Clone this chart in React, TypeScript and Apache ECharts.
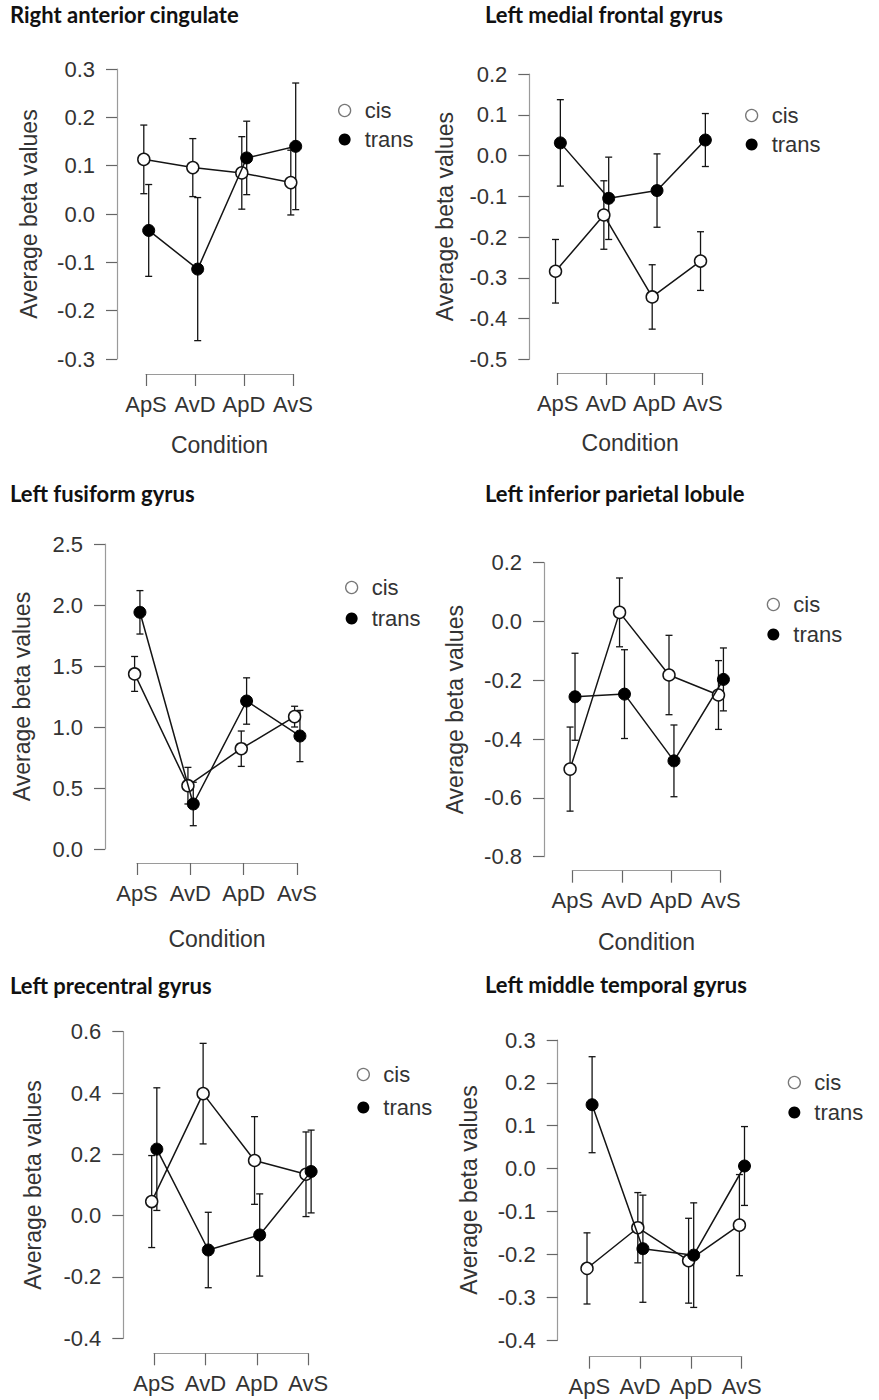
import React, { useEffect, useRef } from 'react';
import * as echarts from 'echarts';

// ---------- data ----------
const CONDITIONS = ['ApS', 'AvD', 'ApD', 'AvS'];
const GROUPS = ['cis', 'trans'];

const PANEL_TITLES = [
  'Right anterior cingulate',
  'Left medial frontal gyrus',
  'Left fusiform gyrus',
  'Left inferior parietal lobule',
  'Left precentral gyrus',
  'Left middle temporal gyrus',
];

// y-axis ranges (min, max, tick step)
const Y_MIN = [-0.3, -0.5, 0.0, -0.8, -0.4, -0.4];
const Y_MAX = [0.3, 0.2, 2.5, 0.2, 0.6, 0.3];
const Y_STEP = [0.1, 0.1, 0.5, 0.2, 0.2, 0.1];

// Right anterior cingulate
const racCisMean = [0.113, 0.096, 0.085, 0.065];
const racCisErr = [0.071, 0.06, 0.075, 0.067];
const racTransMean = [-0.034, -0.114, 0.116, 0.14];
const racTransErr = [0.095, 0.148, 0.076, 0.131];

// Left medial frontal gyrus
const lmfCisMean = [-0.284, -0.146, -0.347, -0.259];
const lmfCisErr = [0.078, 0.084, 0.079, 0.072];
const lmfTransMean = [0.031, -0.105, -0.086, 0.038];
const lmfTransErr = [0.106, 0.101, 0.09, 0.065];

// Left fusiform gyrus
const lfgCisMean = [1.435, 0.519, 0.822, 1.085];
const lfgCisErr = [0.143, 0.15, 0.145, 0.085];
const lfgTransMean = [1.94, 0.369, 1.213, 0.926];
const lfgTransErr = [0.178, 0.178, 0.19, 0.21];

// Left inferior parietal lobule
const lipCisMean = [-0.502, 0.031, -0.182, -0.25];
const lipCisErr = [0.143, 0.117, 0.135, 0.117];
const lipTransMean = [-0.256, -0.247, -0.474, -0.197];
const lipTransErr = [0.148, 0.151, 0.122, 0.107];

// Left precentral gyrus
const lpcCisMean = [0.046, 0.398, 0.18, 0.135];
const lpcCisErr = [0.15, 0.164, 0.143, 0.138];
const lpcTransMean = [0.217, -0.112, -0.063, 0.144];
const lpcTransErr = [0.2, 0.123, 0.134, 0.135];

// Left middle temporal gyrus
const lmtCisMean = [-0.233, -0.138, -0.215, -0.132];
const lmtCisErr = [0.083, 0.082, 0.099, 0.118];
const lmtTransMean = [0.149, -0.187, -0.202, 0.006];
const lmtTransErr = [0.112, 0.125, 0.122, 0.092];

const PANEL_DATA = [
  { cis: [racCisMean, racCisErr], trans: [racTransMean, racTransErr] },
  { cis: [lmfCisMean, lmfCisErr], trans: [lmfTransMean, lmfTransErr] },
  { cis: [lfgCisMean, lfgCisErr], trans: [lfgTransMean, lfgTransErr] },
  { cis: [lipCisMean, lipCisErr], trans: [lipTransMean, lipTransErr] },
  { cis: [lpcCisMean, lpcCisErr], trans: [lpcTransMean, lpcTransErr] },
  { cis: [lmtCisMean, lmtCisErr], trans: [lmtTransMean, lmtTransErr] },
];

// ---------- layout (pixels) ----------
const LAYOUT = [
  { grid: [146, 69, 147, 290], yOff: 29, xOff: 15, yGap: 77, xGap: 59, leg: [338, 99, 6], title: [10, 2], cond: true },
  { grid: [557.7, 74, 145, 285.3], yOff: 28.4, xOff: 13.7, yGap: 73, xGap: 58, leg: [745, 104, 6], title: [485, 2], cond: true },
  { grid: [137, 544, 160, 305], yOff: 32, xOff: 14, yGap: 72, xGap: 64, leg: [345, 576, 8], title: [10, 481], cond: true },
  { grid: [572.3, 562.7, 148.4, 294], yOff: 28.3, xOff: 14, yGap: 78, xGap: 60, leg: [766.7, 593, 7], title: [485, 481], cond: true },
  { grid: [154, 1031.7, 154.3, 306.6], yOff: 30.7, xOff: 15, yGap: 79, xGap: 60, leg: [356.7, 1063, 10], title: [10, 973], cond: false },
  { grid: [589.3, 1040, 152.4, 300], yOff: 31.6, xOff: 16.7, yGap: 77, xGap: 60, leg: [787.7, 1071, 7], title: [485, 972], cond: false },
];

const DODGE = { cis: -0.045, trans: 0.055 };
const AXIS_FONT = '"Liberation Sans", Arial, Helvetica, sans-serif';
const TITLE_FONT = 'Lato, "Open Sans", sans-serif';
const TEXT_COLOR = '#333';
const AXIS_LINE = '#9a9a9a';
const TICK_COLOR = '#666';
const INK = '#141414';

function fmtY(v: number) {
  if (Math.abs(v) < 1e-9) return '0.0';
  return v.toFixed(1);
}

function errRender(params: any, api: any) {
  const x = api.value(0);
  const lo = api.value(1);
  const hi = api.value(2);
  const pTop = api.coord([x, hi]);
  const pBot = api.coord([x, lo]);
  const w = 3.5;
  const style = { stroke: INK, lineWidth: 1.3, fill: null };
  return {
    type: 'group',
    children: [
      { type: 'line', shape: { x1: pTop[0], y1: pTop[1], x2: pBot[0], y2: pBot[1] }, style },
      { type: 'line', shape: { x1: pTop[0] - w, y1: pTop[1], x2: pTop[0] + w, y2: pTop[1] }, style },
      { type: 'line', shape: { x1: pBot[0] - w, y1: pBot[1], x2: pBot[0] + w, y2: pBot[1] }, style },
    ],
  };
}

function buildOption() {
  const grid: any[] = [];
  const xAxis: any[] = [];
  const yAxis: any[] = [];
  const series: any[] = [];
  const legend: any[] = [];
  const title: any[] = [];

  LAYOUT.forEach((L, i) => {
    const [left, top, width, height] = L.grid;
    grid.push({ left, top, width, height, containLabel: false });
    xAxis.push({
      type: 'value',
      gridIndex: i,
      min: 1,
      max: CONDITIONS.length,
      interval: 1,
      offset: L.xOff,
      name: L.cond ? 'Condition' : '',
      nameLocation: 'middle',
      nameGap: L.xGap,
      nameTextStyle: { fontFamily: AXIS_FONT, fontSize: 23, color: TEXT_COLOR },
      axisLine: { show: true, onZero: false, lineStyle: { color: AXIS_LINE, width: 1.2 } },
      axisTick: { show: true, length: 12, lineStyle: { color: TICK_COLOR, width: 1.2 } },
      axisLabel: {
        show: true,
        margin: 19,
        showMinLabel: true,
        showMaxLabel: true,
        fontFamily: AXIS_FONT,
        fontSize: 22,
        color: TEXT_COLOR,
        formatter: (v: number) => CONDITIONS[Math.round(v) - 1] ?? '',
      },
      splitLine: { show: false },
    });
    yAxis.push({
      type: 'value',
      gridIndex: i,
      min: Y_MIN[i],
      max: Y_MAX[i],
      interval: Y_STEP[i],
      offset: L.yOff,
      name: 'Average beta values',
      nameLocation: 'middle',
      nameGap: L.yGap,
      nameTextStyle: { fontFamily: AXIS_FONT, fontSize: 23, color: TEXT_COLOR },
      axisLine: { show: true, onZero: false, lineStyle: { color: AXIS_LINE, width: 1.2 } },
      axisTick: { show: true, length: 11, lineStyle: { color: TICK_COLOR, width: 1.2 } },
      axisLabel: {
        show: true,
        margin: 22,
        showMinLabel: true,
        showMaxLabel: true,
        fontFamily: AXIS_FONT,
        fontSize: 22,
        color: TEXT_COLOR,
        formatter: fmtY,
      },
      splitLine: { show: false },
    });

    const D: any = PANEL_DATA[i];
    GROUPS.forEach((g) => {
      const [mean, err] = D[g];
      series.push({
        type: 'custom',
        xAxisIndex: i,
        yAxisIndex: i,
        renderItem: errRender,
        encode: { x: 0, y: [1, 2] },
        data: mean.map((m: number, k: number) => [k + 1 + (DODGE as any)[g], m - err[k], m + err[k]]),
        z: 2,
        silent: true,
      });
    });
    GROUPS.forEach((g, gi) => {
      const [mean] = D[g];
      const isCis = g === 'cis';
      series.push({
        type: 'line',
        name: g,
        xAxisIndex: i,
        yAxisIndex: i,
        clip: false,
        data: mean.map((m: number, k: number) => [k + 1 + (DODGE as any)[g], m]),
        symbol: 'circle',
        symbolSize: 12,
        showAllSymbol: true,
        lineStyle: { color: INK, width: 1.5 },
        itemStyle: isCis
          ? { color: '#ffffff', borderColor: INK, borderWidth: 1.5 }
          : { color: '#000000', borderColor: '#000000', borderWidth: 1 },
        z: 3 + gi,
        silent: true,
      });
    });

    legend.push({
      orient: 'vertical',
      left: L.leg[0],
      top: L.leg[1],
      itemGap: L.leg[2],
      itemWidth: 30,
      itemHeight: 12,
      padding: 0,
      icon: 'circle',
      selectedMode: false,
      textStyle: { fontFamily: AXIS_FONT, fontSize: 22, color: TEXT_COLOR, lineHeight: 23 },
      data: [
        { name: 'cis', itemStyle: { color: '#ffffff', borderColor: '#777', borderWidth: 1.3 } },
        { name: 'trans', itemStyle: { color: '#000000', borderColor: '#000000', borderWidth: 0 } },
      ],
    });

    title.push({
      text: PANEL_TITLES[i],
      left: L.title[0],
      top: L.title[1],
      padding: 0,
      textStyle: { fontFamily: TITLE_FONT, fontWeight: 'bold', fontSize: 22, color: '#111', lineHeight: 25 },
    });
  });

  return {
    animation: false,
    backgroundColor: '#ffffff',
    title,
    legend,
    grid,
    xAxis,
    yAxis,
    series,
  };
}

export default function App() {
  const ref = useRef<HTMLDivElement>(null);
  useEffect(() => {
    if (!ref.current) return;
    const chart = echarts.init(ref.current, null, { renderer: 'svg', width: 879, height: 1400 });
    chart.setOption(buildOption() as any);
    return () => chart.dispose();
  }, []);
  return (
    <div
      ref={ref}
      style={{ position: 'absolute', left: 0, top: 0, width: 879, height: 1400, background: '#fff' }}
    />
  );
}
